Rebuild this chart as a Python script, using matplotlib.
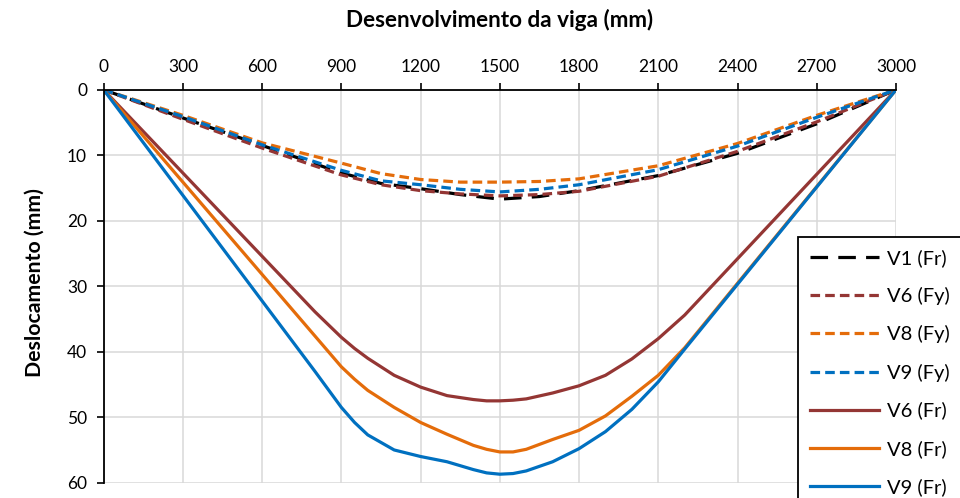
import matplotlib
matplotlib.use("Agg")
import matplotlib.pyplot as plt

plt.rcParams['font.family'] = ['Lato', 'DejaVu Sans']

# Positions along the beam (mm)
x_fy = [0, 300, 600, 900, 1050, 1200, 1350, 1500, 1650, 1800, 2100, 2400, 2700, 3000]
x_fr = [0, 800, 900, 950, 1000, 1100, 1200, 1300, 1400, 1450, 1500, 1550, 1600,
        1700, 1800, 1900, 2000, 2100, 2200, 3000]

# Vertical displacement (mm)
v1_fr = [0, 4.3, 8.5, 12.7, 14.3, 15.1, 16.0, 16.7, 16.3, 15.4, 13.1, 9.7, 5.2, 0]
v6_fy = [0, 4.5, 8.9, 13.0, 14.5, 15.4, 15.9, 16.2, 16.0, 15.5, 13.2, 9.4, 4.9, 0]
v8_fy = [0, 3.9, 8.1, 11.2, 12.8, 13.7, 14.1, 14.1, 14.0, 13.6, 11.6, 8.2, 3.9, 0]
v9_fy = [0, 4.1, 8.4, 12.3, 13.9, 14.5, 15.2, 15.6, 15.2, 14.5, 12.2, 8.6, 4.2, 0]

v6_fr = [0, 33.9, 37.8, 39.5, 41.0, 43.6, 45.4, 46.7, 47.3, 47.5, 47.5, 47.4, 47.2,
         46.3, 45.2, 43.6, 41.1, 38.0, 34.4, 0]
v8_fr = [0, 37.6, 42.3, 44.2, 45.9, 48.5, 50.8, 52.6, 54.3, 54.9, 55.3, 55.3, 54.9,
         53.4, 52.0, 49.8, 46.8, 43.6, 39.4, 0]
v9_fr = [0, 43.0, 48.5, 50.8, 52.7, 55.0, 56.0, 56.8, 58.0, 58.5, 58.7, 58.6, 58.2,
         56.8, 54.8, 52.2, 48.8, 44.6, 39.6, 0]

x_ticks = list(range(0, 3001, 300))
y_ticks = list(range(0, 61, 10))

BLACK = "#000000"
BROWN = "#943634"
ORANGE = "#E46C0A"
BLUE = "#0070C0"

fig = plt.figure(figsize=(9.6, 4.98), dpi=100)
ax = fig.add_axes([0.108, 0.0307, 0.8253, 0.789])

lw = 2.3
ax.plot(x_fy, v1_fr, color=BLACK, lw=lw, dashes=(5.5, 3.2), label="V1 (Fr)")
ax.plot(x_fy, v6_fy, color=BROWN, lw=lw, dashes=(3.0, 1.6), label="V6 (Fy)")
ax.plot(x_fy, v8_fy, color=ORANGE, lw=lw, dashes=(3.0, 1.6), label="V8 (Fy)")
ax.plot(x_fy, v9_fy, color=BLUE, lw=lw, dashes=(3.0, 1.6), label="V9 (Fy)")
ax.plot(x_fr, v6_fr, color=BROWN, lw=lw, label="V6 (Fr)", solid_joinstyle='round')
ax.plot(x_fr, v8_fr, color=ORANGE, lw=lw, label="V8 (Fr)", solid_joinstyle='round')
ax.plot(x_fr, v9_fr, color=BLUE, lw=lw, label="V9 (Fr)", solid_joinstyle='round')

ax.set_xlim(0, 3000)
ax.set_ylim(60, 0)
ax.set_xticks(x_ticks)
ax.set_yticks(y_ticks)
ax.xaxis.tick_top()
ax.xaxis.set_label_position('top')

ax.grid(True, color="#D9D9D9", lw=1.1)
ax.set_axisbelow(True)
for side in ("right", "bottom"):
    ax.spines[side].set_visible(False)
for side in ("top", "left"):
    ax.spines[side].set_linewidth(1.3)
    ax.spines[side].set_color("black")

ax.tick_params(axis='x', which='major', length=5, width=1.2, pad=6,
               labelsize=12.5, colors="black")
ax.tick_params(axis='y', which='major', length=5, width=1.2, pad=7,
               labelsize=12.5, colors="black")

ax.set_xlabel("Desenvolvimento da viga (mm)", fontsize=16.2, fontweight='bold')
ax.xaxis.label.set_va('center')
ax.xaxis.set_label_coords(0.5, 1.177)
ax.set_ylabel("Deslocamento (mm)", fontsize=15.3, fontweight='bold')
ax.yaxis.label.set_va('center')
ax.yaxis.set_label_coords(-0.087, 0.51)

leg = ax.legend(loc='upper left', bbox_to_anchor=(798 / 960, 1 - 237 / 498),
                bbox_transform=fig.transFigure, fontsize=14.5, frameon=True,
                fancybox=False, framealpha=1, edgecolor="black",
                handlelength=3.4, handletextpad=0.4, labelspacing=1.0,
                borderpad=0.6, borderaxespad=0)
leg.get_frame().set_linewidth(1.3)

fig.savefig("out.png", dpi=100)
